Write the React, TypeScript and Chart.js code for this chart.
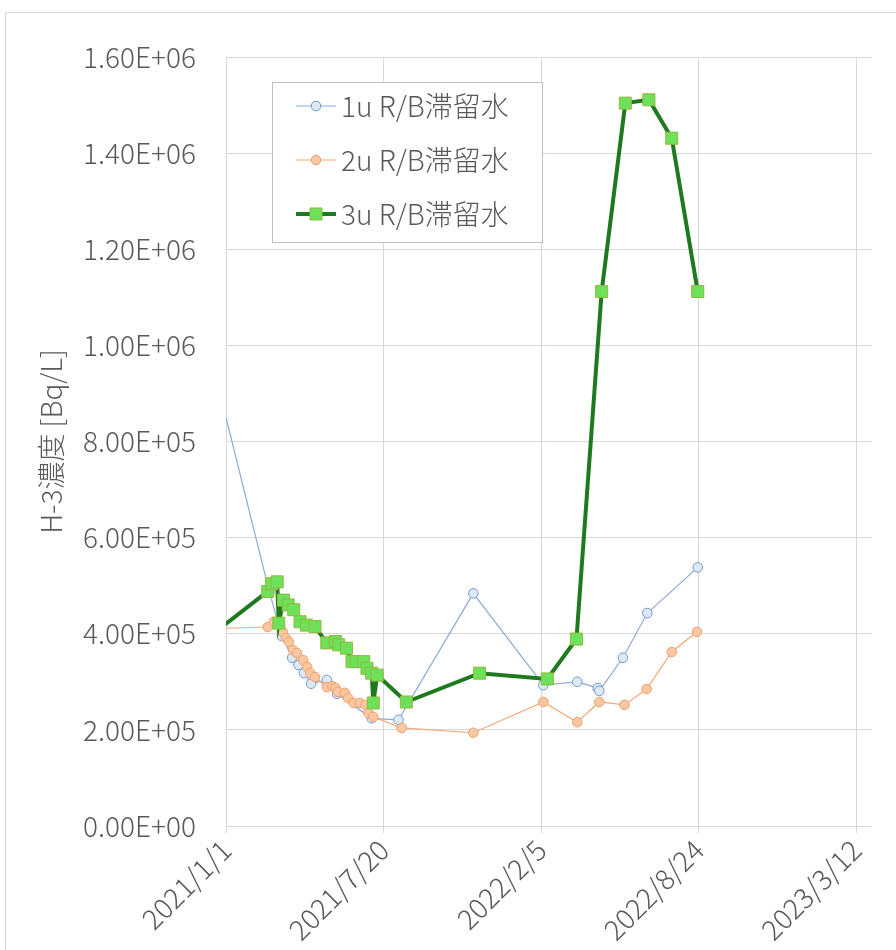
import React, { useEffect, useRef } from "react";
import { Chart, registerables } from "chart.js";

Chart.register(...registerables);

// Axis settings
const AXIS_ORIGIN = "2021/1/1";
const AXIS_END = "2023/3/31";
const X_TICK_DATES = ["2021/1/1", "2021/7/20", "2022/2/5", "2022/8/24", "2023/3/12"];
const Y_MAX = 1600000;
const Y_STEP = 200000;

const yAxisTitle = "H-3濃度 [Bq/L]";
const seriesLabels = ["1u R/B滞留水", "2u R/B滞留水", "3u R/B滞留水"];

// 1u R/B stagnant water
const unit1Dates = [
  "2020/12/22", "2021/2/25", "2021/3/13", "2021/3/26", "2021/4/3", "2021/4/10",
  "2021/4/19", "2021/5/9", "2021/5/22", "2021/7/5", "2021/8/8", "2021/11/11",
  "2022/2/8", "2022/3/23", "2022/4/18", "2022/4/20", "2022/5/20", "2022/6/20",
  "2022/8/23",
];
const unit1Values = [
  916000, 487000, 395000, 350000, 335000, 318000,
  296000, 304000, 275000, 224000, 221000, 484000,
  293000, 300000, 287000, 281000, 350000, 443000,
  538000,
];

// 2u R/B stagnant water
const unit2Dates = [
  "2020/12/22", "2021/2/23", "2021/3/3", "2021/3/14", "2021/3/18", "2021/3/22",
  "2021/3/27", "2021/4/1", "2021/4/9", "2021/4/14", "2021/4/18", "2021/4/24",
  "2021/5/9", "2021/5/16", "2021/5/20", "2021/5/23", "2021/6/1", "2021/6/5",
  "2021/6/12", "2021/6/20", "2021/6/27", "2021/7/1", "2021/7/7", "2021/8/12",
  "2021/11/11", "2022/2/8", "2022/3/23", "2022/4/20", "2022/5/22", "2022/6/19",
  "2022/7/21", "2022/8/22",
];
const unit2Values = [
  411000, 414000, 425000, 404000, 391000, 383000,
  366000, 360000, 345000, 331000, 318000, 310000,
  289000, 291000, 287000, 279000, 277000, 266000,
  256000, 256000, 252000, 235000, 227000, 204000,
  194000, 258000, 216000, 258000, 252000, 285000,
  362000, 404000,
];

// 3u R/B stagnant water
const unit3Dates = [
  "2020/12/2", "2021/2/23", "2021/2/28", "2021/3/7", "2021/3/9", "2021/3/15",
  "2021/3/21", "2021/3/28", "2021/4/5", "2021/4/13", "2021/4/24", "2021/5/9",
  "2021/5/20", "2021/5/24", "2021/6/3", "2021/6/10", "2021/6/16", "2021/6/25",
  "2021/6/29", "2021/7/5", "2021/7/7", "2021/7/12", "2021/8/18", "2021/11/19",
  "2022/2/13", "2022/3/22", "2022/4/23", "2022/5/23", "2022/6/22", "2022/7/21",
  "2022/8/23",
];
const unit3Values = [
  383000, 488000, 504000, 508000, 422000, 470000,
  460000, 450000, 425000, 418000, 415000, 381000,
  384000, 377000, 370000, 342000, 342000, 342000,
  328000, 318000, 256000, 314000, 258000, 318000,
  306000, 389000, 1112000, 1504000, 1511000, 1431000,
  1112000,
];

const DAY_MS = 86400000;

function parseDate(s: string): number {
  const [y, m, d] = s.split("/").map(Number);
  return Date.UTC(y, m - 1, d);
}

const originMs = parseDate(AXIS_ORIGIN);

function dayOffset(s: string): number {
  return Math.round((parseDate(s) - originMs) / DAY_MS);
}

function dateLabel(days: number): string {
  const dt = new Date(originMs + days * DAY_MS);
  return `${dt.getUTCFullYear()}/${dt.getUTCMonth() + 1}/${dt.getUTCDate()}`;
}

function sciLabel(v: number): string {
  if (v === 0) return "0.00E+00";
  const exp = Math.floor(Math.log10(Math.abs(v)) + 1e-9);
  const mant = v / Math.pow(10, exp);
  const sign = exp < 0 ? "-" : "+";
  return `${mant.toFixed(2)}E${sign}${String(Math.abs(exp)).padStart(2, "0")}`;
}

function toPoints(dates: string[], values: number[]) {
  return dates.map((d, i) => ({ x: dayOffset(d), y: values[i] }));
}

const FONT_FAMILY = '"Noto Sans CJK JP", "Noto Sans", sans-serif';
const FONT_SIZE = 28;
const FONT_WEIGHT = "300";
const TEXT_COLOR = "#595959";
const GRID_COLOR = "#d9d9d9";

const styles = [
  {
    line: "#8ea9d6",
    lineWidth: 1.2,
    marker: "circle",
    radius: 4.8,
    fill: "#dfe9f6",
    stroke: "#6f9bd2",
  },
  {
    line: "#f2a878",
    lineWidth: 1.2,
    marker: "circle",
    radius: 4.8,
    fill: "#f9c8a3",
    stroke: "#f0a06c",
  },
  {
    line: "#1f7a1f",
    lineWidth: 4,
    marker: "rect",
    radius: 8.5,
    fill: "#6de15a",
    stroke: "#93b83c",
  },
];

// In-plot legend box drawn on the canvas
const legendBox = {
  id: "legendBox",
  afterDraw(chart: Chart) {
    const { ctx, chartArea } = chart;
    const x0 = chartArea.left + 46;
    const y0 = chartArea.top + 25;
    const w = 271;
    const h = 161;
    ctx.save();
    ctx.fillStyle = "#ffffff";
    ctx.fillRect(x0, y0, w, h);
    ctx.strokeStyle = "#bfbfbf";
    ctx.lineWidth = 1;
    ctx.strokeRect(x0 + 0.5, y0 + 0.5, w - 1, h - 1);
    const rowGap = 54;
    seriesLabels.forEach((label, i) => {
      const st = styles[i];
      const cy = y0 + 24 + i * rowGap;
      const lx0 = x0 + 24;
      const lx1 = x0 + 64;
      ctx.strokeStyle = st.line;
      ctx.lineWidth = st.lineWidth;
      ctx.beginPath();
      ctx.moveTo(lx0, cy);
      ctx.lineTo(lx1, cy);
      ctx.stroke();
      const cx = (lx0 + lx1) / 2;
      ctx.fillStyle = st.fill;
      ctx.strokeStyle = st.stroke;
      ctx.lineWidth = 1;
      ctx.beginPath();
      if (st.marker === "rect") {
        const s = Math.SQRT1_2 * st.radius;
        ctx.rect(cx - s, cy - s, 2 * s, 2 * s);
      } else {
        ctx.arc(cx, cy, st.radius, 0, Math.PI * 2);
      }
      ctx.fill();
      ctx.stroke();
      ctx.fillStyle = TEXT_COLOR;
      ctx.font = `${FONT_WEIGHT} ${FONT_SIZE}px ${FONT_FAMILY}`;
      ctx.textAlign = "left";
      ctx.textBaseline = "middle";
      ctx.fillText(label, lx1 + 5, cy);
    });
    ctx.restore();
  },
};

export default function App() {
  const canvasRef = useRef<HTMLCanvasElement | null>(null);

  useEffect(() => {
    const canvas = canvasRef.current;
    if (!canvas) return;

    const seriesData = [
      toPoints(unit1Dates, unit1Values),
      toPoints(unit2Dates, unit2Values),
      toPoints(unit3Dates, unit3Values),
    ];

    const datasets = seriesData.map((data, i) => ({
      label: seriesLabels[i],
      data,
      borderColor: styles[i].line,
      borderWidth: styles[i].lineWidth,
      backgroundColor: styles[i].fill,
      pointStyle: styles[i].marker,
      pointRadius: styles[i].radius,
      pointBackgroundColor: styles[i].fill,
      pointBorderColor: styles[i].stroke,
      pointBorderWidth: 1,
      tension: 0,
      fill: false,
      order: 3 - i,
    }));

    const xTickValues = X_TICK_DATES.map(dayOffset);
    const tickFont = { family: FONT_FAMILY, size: FONT_SIZE, weight: FONT_WEIGHT };

    const chart = new Chart(canvas, {
      type: "line",
      data: { datasets },
      options: {
        responsive: false,
        animation: false,
        parsing: false,
        layout: { padding: { top: 57, right: 25, left: 0, bottom: 0 } },
        plugins: {
          legend: { display: false },
          tooltip: { enabled: false },
        },
        scales: {
          x: {
            type: "linear",
            min: 0,
            max: dayOffset(AXIS_END),
            afterBuildTicks: (scale: any) => {
              scale.ticks = xTickValues.map((value) => ({ value }));
            },
            afterFit: (scale: any) => {
              scale.height = 124;
            },
            ticks: {
              autoSkip: false,
              maxRotation: 45,
              minRotation: 45,
              padding: 0,
              color: TEXT_COLOR,
              font: tickFont,
              callback: (v: any) => dateLabel(Number(v)),
            },
            grid: { color: GRID_COLOR, tickLength: 7, lineWidth: 1 },
            border: { display: false },
          },
          y: {
            type: "linear",
            min: 0,
            max: Y_MAX,
            afterFit: (scale: any) => {
              scale.width = 226;
            },
            ticks: {
              stepSize: Y_STEP,
              padding: 30,
              color: TEXT_COLOR,
              font: tickFont,
              callback: (v: any) => sciLabel(Number(v)),
            },
            grid: { color: GRID_COLOR, drawTicks: false, lineWidth: 1 },
            border: { display: false },
            title: {
              display: true,
              text: yAxisTitle,
              color: TEXT_COLOR,
              font: tickFont,
              padding: { top: 35, bottom: 0 },
            },
          },
        },
      },
      plugins: [legendBox],
    });

    return () => chart.destroy();
  }, []);

  return (
    <div
      style={{
        position: "absolute",
        left: 0,
        top: 0,
        width: 896,
        height: 950,
        overflow: "hidden",
        background: "#ffffff",
      }}
    >
      <div
        style={{
          position: "absolute",
          left: 5,
          top: 12,
          width: 1000,
          height: 1000,
          border: "1px solid #d9d9d9",
        }}
      />
      <canvas
        ref={canvasRef}
        width={896}
        height={950}
        style={{ position: "absolute", left: 0, top: 0 }}
      />
    </div>
  );
}
